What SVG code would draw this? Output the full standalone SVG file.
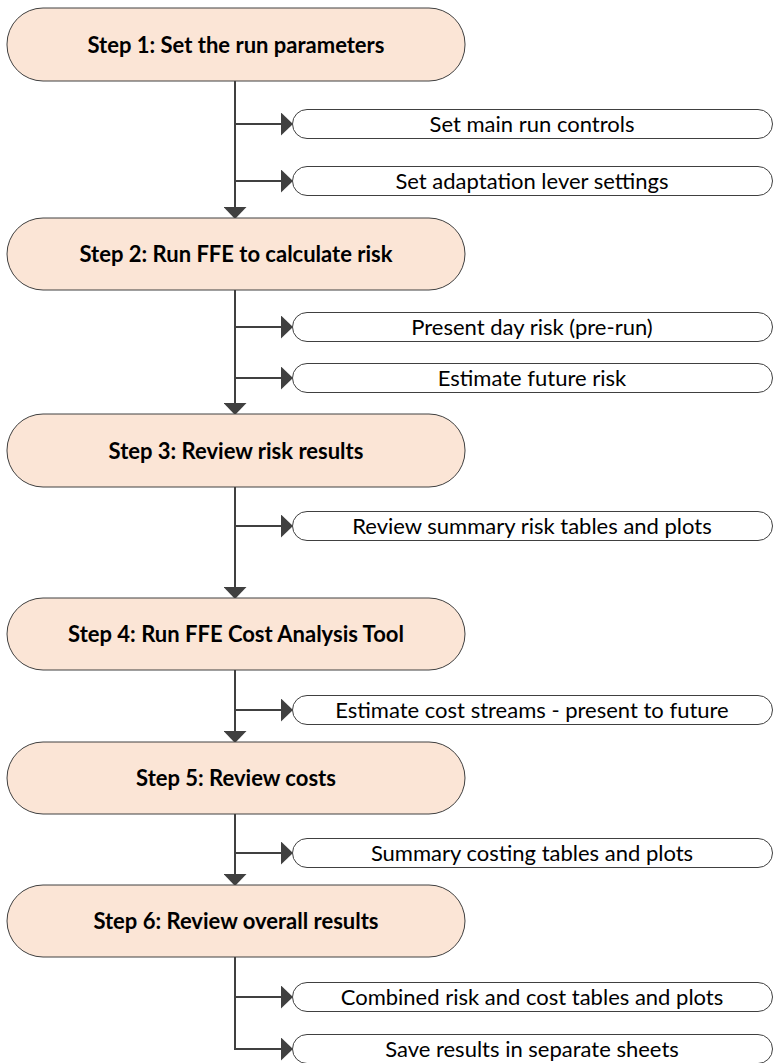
<svg xmlns="http://www.w3.org/2000/svg" width="774" height="1063" viewBox="0 0 774 1063">
  <style>
    .step rect { fill: #FBE5D6; stroke: #404040; stroke-width: 1; }
    .step text { font-family: Lato, "Noto Sans", "Liberation Sans", sans-serif; font-weight: bold; font-size: 22px; fill: #000; text-anchor: middle; }
    .task rect { fill: #FFFFFF; stroke: #404040; stroke-width: 1; }
    .task text { font-family: Lato, "Noto Sans", "Liberation Sans", sans-serif; font-size: 22px; fill: #000; text-anchor: middle; }
    .wire { fill: none; stroke: #404040; stroke-width: 2; }
    .arrow { marker-end: url(#head); }
  </style>
  <defs>
    <marker id="head" markerUnits="userSpaceOnUse" markerWidth="12" markerHeight="23" viewBox="0 0 12 23" refX="0" refY="11.5" orient="auto">
      <path d="M0,0 L12,11.5 L0,23 Z" fill="#404040"/>
    </marker>
  </defs>

  <!-- connectors: main spine and side branches -->
  <g id="connectors">
    <path class="wire arrow" d="M235,81 V207"/>
    <path class="wire arrow" d="M235,124 H281"/>
    <path class="wire arrow" d="M235,181 H281"/>
    <path class="wire arrow" d="M235,290 V403"/>
    <path class="wire arrow" d="M235,327 H281"/>
    <path class="wire arrow" d="M235,378 H281"/>
    <path class="wire arrow" d="M235,487 V587"/>
    <path class="wire arrow" d="M235,526 H281"/>
    <path class="wire arrow" d="M235,670 V731"/>
    <path class="wire arrow" d="M235,710 H281"/>
    <path class="wire arrow" d="M235,814 V874"/>
    <path class="wire arrow" d="M235,853 H281"/>
    <path class="wire arrow" d="M235,997 H281"/>
    <path class="wire arrow" d="M235,957 V1049 H281"/>
  </g>

  <!-- main steps -->
  <g id="step1" class="step">
    <rect x="7" y="8" width="458" height="73" rx="36" ry="36"/>
    <text x="236" y="52.5">Step 1: Set the run parameters</text>
  </g>
  <g id="step2" class="step">
    <rect x="7" y="218" width="458" height="72" rx="36" ry="36"/>
    <text x="236" y="262">Step 2: Run FFE to calculate risk</text>
  </g>
  <g id="step3" class="step">
    <rect x="7" y="414" width="458" height="73" rx="36" ry="36"/>
    <text x="236" y="458.5">Step 3: Review risk results</text>
  </g>
  <g id="step4" class="step">
    <rect x="7" y="598" width="458" height="72" rx="36" ry="36"/>
    <text x="236" y="642">Step 4: Run FFE Cost Analysis Tool</text>
  </g>
  <g id="step5" class="step">
    <rect x="7" y="742" width="458" height="72" rx="36" ry="36"/>
    <text x="236" y="786">Step 5: Review costs</text>
  </g>
  <g id="step6" class="step">
    <rect x="7" y="885" width="458" height="72" rx="36" ry="36"/>
    <text x="236" y="929">Step 6: Review overall results</text>
  </g>

  <!-- side tasks -->
  <g id="task1a" class="task">
    <rect x="292.5" y="109.5" width="480" height="29" rx="14.5" ry="14.5"/>
    <text x="532" y="131.5">Set main run controls</text>
  </g>
  <g id="task1b" class="task">
    <rect x="292.5" y="166.5" width="480" height="29" rx="14.5" ry="14.5"/>
    <text x="532" y="188.5">Set adaptation lever settings</text>
  </g>
  <g id="task2a" class="task">
    <rect x="292.5" y="312.5" width="480" height="29" rx="14.5" ry="14.5"/>
    <text x="532" y="334.5">Present day risk (pre-run)</text>
  </g>
  <g id="task2b" class="task">
    <rect x="292.5" y="363.5" width="480" height="29" rx="14.5" ry="14.5"/>
    <text x="532" y="385.5">Estimate future risk</text>
  </g>
  <g id="task3a" class="task">
    <rect x="292.5" y="511.5" width="480" height="29" rx="14.5" ry="14.5"/>
    <text x="532" y="533.5">Review summary risk tables and plots</text>
  </g>
  <g id="task4a" class="task">
    <rect x="292.5" y="695.5" width="480" height="29" rx="14.5" ry="14.5"/>
    <text x="532" y="717.5">Estimate cost streams - present to future</text>
  </g>
  <g id="task5a" class="task">
    <rect x="292.5" y="838.5" width="480" height="29" rx="14.5" ry="14.5"/>
    <text x="532" y="860.5">Summary costing tables and plots</text>
  </g>
  <g id="task6a" class="task">
    <rect x="292.5" y="982.5" width="480" height="29" rx="14.5" ry="14.5"/>
    <text x="532" y="1004.5">Combined risk and cost tables and plots</text>
  </g>
  <g id="task6b" class="task">
    <rect x="292.5" y="1034.5" width="480" height="29" rx="14.5" ry="14.5"/>
    <text x="532" y="1056.5">Save results in separate sheets</text>
  </g>
</svg>
